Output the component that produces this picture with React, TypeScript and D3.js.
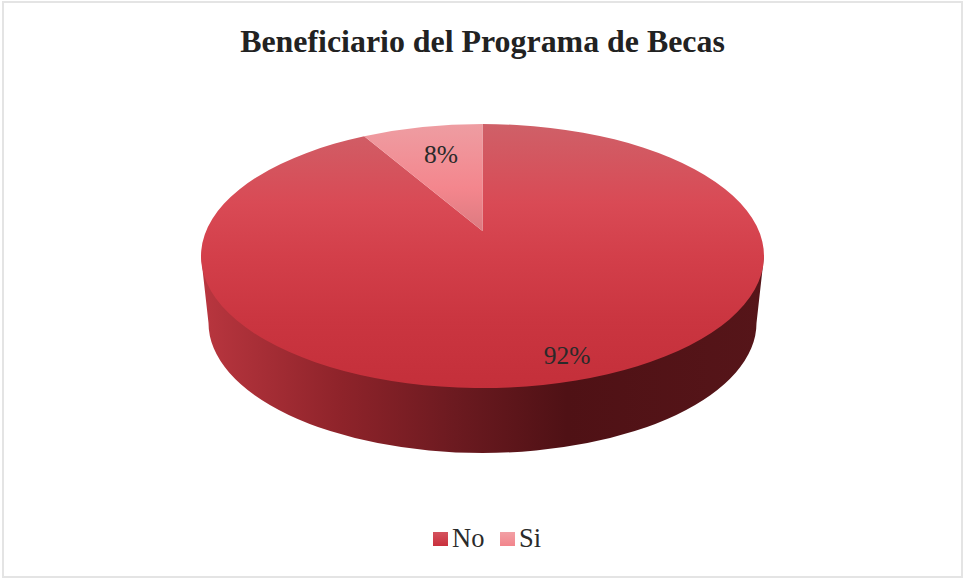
import React from "react";
import * as d3 from "d3";

const categories = ["No", "Si"];
const seriesValues = [91.7, 8.3];
const titleText = "Beneficiario del Programa de Becas";

const W = 963, H = 579;
const cx = 482.5, cy = 256, rx = 281.5, ry = 132;
const apexOffset = -25; // perspective shift of the pie centre on the tilted top face
const bottomCy = 323, bottomRx = 274, bottomRy = 130;
const serif = "'Liberation Serif', serif";

// Perspective map of a pie angle onto the top ellipse (circle-preserving homography)
const a0 = apexOffset / ry;
function project(theta: number): [number, number] {
  const x = Math.sin(theta), y = -Math.cos(theta);
  const d = 1 + a0 * y;
  const xp = (x * Math.sqrt(1 - a0 * a0)) / d;
  const yp = (y + a0) / d;
  return [cx + xp * rx, cy + yp * ry];
}

export default function App() {
  const pie = d3.pie<number>().sort(null).startAngle(0).endAngle(2 * Math.PI);
  const arcs = pie(seriesValues);
  const fills = ["url(#gNo)", "url(#gSi)"];
  const pct = d3.format(".0f");
  const labelPos: [number, number][] = [[567, 364], [441, 163]];
  const sidePath = `M${cx - rx},${cy} L${cx - bottomRx},${bottomCy} A${bottomRx},${bottomRy} 0 0 0 ${cx + bottomRx},${bottomCy} L${cx + rx},${cy} Z`;
  const slicePath = (s: number, e: number) => {
    const [x0, y0] = project(s);
    const [x1, y1] = project(e);
    return `M${cx},${cy + apexOffset} L${x0},${y0} A${rx},${ry} 0 ${e - s > Math.PI ? 1 : 0} 1 ${x1},${y1} Z`;
  };
  const legendItems = [
    { x: 433, tx: 452 },
    { x: 500, tx: 519 },
  ];
  return (
    <svg width={W} height={H} style={{ position: "absolute", left: 0, top: 0, background: "#fff" }}>
      <defs>
        <linearGradient id="gNo" gradientUnits="userSpaceOnUse" x1="0" y1={cy - ry} x2="0" y2={cy + ry}>
          <stop offset="0" stopColor="#cf6068" />
          <stop offset="0.3" stopColor="#d94a55" />
          <stop offset="0.5" stopColor="#d33f4a" />
          <stop offset="0.75" stopColor="#ca3540" />
          <stop offset="1" stopColor="#c42f3a" />
        </linearGradient>
        <linearGradient id="gSi" gradientUnits="userSpaceOnUse" x1="0" y1={cy - ry} x2="0" y2={cy + apexOffset}>
          <stop offset="0" stopColor="#ee9da2" />
          <stop offset="0.6" stopColor="#f4868d" />
          <stop offset="1" stopColor="#dc7a80" />
        </linearGradient>
        <linearGradient id="gSide" gradientUnits="userSpaceOnUse" x1={cx - rx} y1="0" x2={cx + rx} y2="0">
          <stop offset="0" stopColor="#b9363f" />
          <stop offset="0.25" stopColor="#8e232a" />
          <stop offset="0.45" stopColor="#6c1a20" />
          <stop offset="0.65" stopColor="#4f1115" />
          <stop offset="1" stopColor="#561519" />
        </linearGradient>
        <linearGradient id="gLegNo" x1="0" y1="0" x2="0" y2="1">
          <stop offset="0" stopColor="#d4535e" />
          <stop offset="1" stopColor="#c9303c" />
        </linearGradient>
        <linearGradient id="gLegSi" x1="0" y1="0" x2="0" y2="1">
          <stop offset="0" stopColor="#f2a0a5" />
          <stop offset="1" stopColor="#f2858c" />
        </linearGradient>
      </defs>
      <rect x={3} y={2} width={W - 4} height={H - 4} fill="#fff" stroke="#e4e4e4" strokeWidth={2} />
      <text x={482.5} y={52} textAnchor="middle" fontFamily={serif} fontWeight="bold" fontSize={31.9} fill="#222">
        {titleText}
      </text>
      <path d={sidePath} fill="url(#gSide)" />
      {arcs.map((a, i) => (
        <path key={categories[i]} d={slicePath(a.startAngle, a.endAngle)} fill={fills[i]} />
      ))}
      {seriesValues.map((v, i) => (
        <text key={i} x={labelPos[i][0]} y={labelPos[i][1]} textAnchor="middle" fontFamily={serif} fontSize={25.5} fill="#2a2a2a">
          {`${pct(v)}%`}
        </text>
      ))}
      {categories.map((c, i) => (
        <g key={c}>
          <rect x={legendItems[i].x} y={532} width={15} height={14} fill={i === 0 ? "url(#gLegNo)" : "url(#gLegSi)"} />
          <text x={legendItems[i].tx} y={547} fontFamily={serif} fontSize={26.5} fill="#2a2a2a">
            {c}
          </text>
        </g>
      ))}
    </svg>
  );
}
